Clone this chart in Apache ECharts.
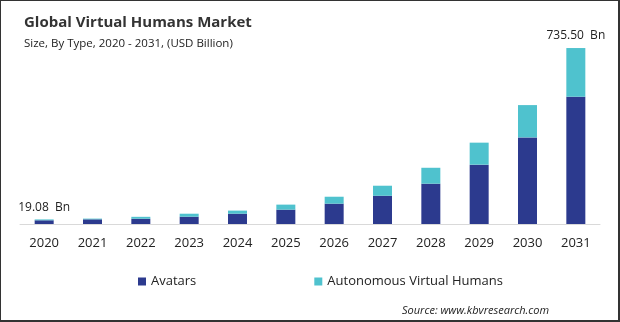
<!DOCTYPE html>
<html>
<head>
<meta charset="utf-8">
<script src="https://cdn.jsdelivr.net/npm/echarts@6/dist/echarts.min.js"></script>
<style>
  html, body { margin: 0; padding: 0; background: #fff; }
  #wrap { position: relative; width: 620px; height: 322px; }
  #chart { width: 620px; height: 322px; }
  /* thin frame drawn over the chart */
  #wrap::after {
    content: ''; position: absolute; left: 0; top: 0; right: 0; bottom: 0;
    box-sizing: border-box; pointer-events: none;
    border-style: solid; border-color: #333;
    border-width: 1px 2px 2px 1px;
  }
</style>
</head>
<body>
<div id="wrap"><div id="chart"></div></div>
<script>
// Market size by type, USD billion
const years = ['2020', '2021', '2022', '2023', '2024', '2025', '2026', '2027', '2028', '2029', '2030', '2031'];
const avatars = [15.5, 19.5, 22, 30.5, 43, 60, 85, 118, 168.5, 248, 362, 532];
const autonomous = [3.58, 3, 8, 12.5, 13, 21, 29, 42, 66.5, 92, 135, 203.5];
// Totals shown as labels for the first and last year
const labelledIdx = [0, 11];

const navy = '#2C3A8E';
const cyan = '#4FC2CE';
const font = '"Open Sans", "Noto Sans", sans-serif';

const chart = echarts.init(document.getElementById('chart'), null, { renderer: 'canvas' });

chart.setOption({
  animation: false,
  title: [
    {
      text: 'Global Virtual Humans Market',
      left: 19, top: 10,
      textStyle: { fontFamily: font, fontSize: 15, fontWeight: 'bold', color: '#333' }
    },
    {
      text: 'Size, By Type, 2020 - 2031, (USD Billion)',
      left: 19, top: 33,
      textStyle: { fontFamily: font, fontSize: 11.5, fontWeight: 'normal', color: '#222' }
    },
    {
      text: 'Source: www.kbvresearch.com',
      left: 397, top: 300,
      textStyle: { fontFamily: font, fontSize: 11, fontStyle: 'italic', fontWeight: 'normal', color: '#222' }
    }
  ],
  legend: {
    left: 133, top: 270,
    itemWidth: 8, itemHeight: 8, itemGap: 118,
    icon: 'rect',
    textStyle: { fontFamily: font, fontSize: 13, color: '#222' },
    data: ['Avatars', 'Autonomous Virtual Humans']
  },
  grid: { left: 20, right: 20, top: 32.6, bottom: 98 },
  xAxis: {
    type: 'category',
    data: years,
    axisLine: { lineStyle: { color: '#d9d9d9' } },
    axisTick: { show: false },
    axisLabel: { fontFamily: font, fontSize: 13, color: '#222', margin: 13 }
  },
  yAxis: {
    type: 'value', min: 0, max: 800,
    show: false, splitLine: { show: false }
  },
  series: [
    {
      name: 'Avatars', type: 'bar', stack: 'total',
      barWidth: 19, itemStyle: { color: navy },
      data: avatars
    },
    {
      name: 'Autonomous Virtual Humans', type: 'bar', stack: 'total',
      barWidth: 19, itemStyle: { color: cyan },
      data: autonomous.map((v, i) => ({
        value: v,
        label: labelledIdx.includes(i) ? {
          show: true, position: 'top', distance: 6,
          fontFamily: font, fontSize: 12, color: '#222',
          formatter: () => (avatars[i] + autonomous[i]).toFixed(2) + '  Bn'
        } : { show: false }
      }))
    }
  ]
});
</script>
</body>
</html>
